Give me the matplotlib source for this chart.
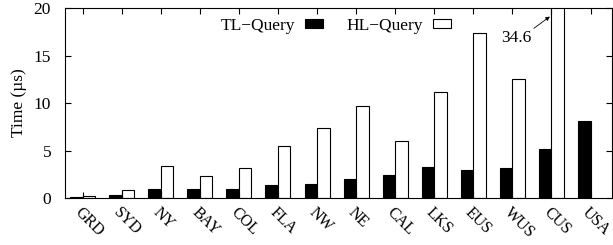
import numpy as np
import matplotlib
matplotlib.use("Agg")
from matplotlib import pyplot as plt
from matplotlib.transforms import ScaledTranslation

# data
datasets = ["GRD", "SYD", "NY", "BAY", "COL", "FLA", "NW", "NE", "CAL", "LKS", "EUS", "WUS", "CUS", "USA"]
tl_query = [0.1, 0.35, 0.9, 0.9, 0.9, 1.4, 1.45, 1.95, 2.4, 3.3, 3.0, 3.2, 5.15, 8.1]
hl_query = [0.2, 0.8, 3.4, 2.3, 3.2, 5.5, 7.4, 9.7, 6.0, 11.2, 17.4, 12.5, 34.6, 0.0]
cus_label = "34.6"

plt.rcParams['font.family'] = 'serif'
plt.rcParams['font.serif'] = ['Liberation Serif', 'DejaVu Serif']
plt.rcParams['font.size'] = 12.5

fig = plt.figure(figsize=(6.13, 2.45), dpi=100)
ax = fig.add_axes([65/613, 1-198/245, 547/613, 190/245])

x = np.arange(len(datasets))
w = 0.32
ax.bar(x - w/2, tl_query, w, color='black', edgecolor='black', linewidth=0.8, label='TL\u2212Query')
ax.bar(x[:-1] + w/2, hl_query[:-1], w, color='white', edgecolor='black', linewidth=0.8, label='HL\u2212Query')

ax.set_xlim(-0.45, 13.55)
ax.set_ylim(0, 20)
ax.set_yticks([0, 5, 10, 15, 20])
ax.set_xticks(x)
ax.set_xticklabels(datasets, rotation=-45, ha='left', va='top', rotation_mode='anchor', fontsize=11.5)
ax.tick_params(direction='in', top=True, right=True, length=4, width=0.8)
ax.tick_params(axis='x', pad=5)
ax.tick_params(axis='y', pad=10)
ax.set_ylabel("Time (\u00b5s)")
ax.yaxis.set_label_coords(-0.07, 0.5)

# arrow to the clipped CUS bar
ax.annotate(cus_label, xy=(11.96, 19.1), xytext=(11.09, 16.8),
            ha='center', va='center',
            arrowprops=dict(arrowstyle='-|>', color='black', lw=0.6, mutation_scale=6,
                            relpos=(1.0, 1.0), shrinkA=0, shrinkB=0))

leg = ax.legend(loc='upper center', bbox_to_anchor=(0.495, 1.03), ncol=2, frameon=False,
                markerfirst=False, handlelength=1.05, handleheight=0.45, columnspacing=1.3,
                handletextpad=0.6)

fig.savefig("out.png", dpi=100)
